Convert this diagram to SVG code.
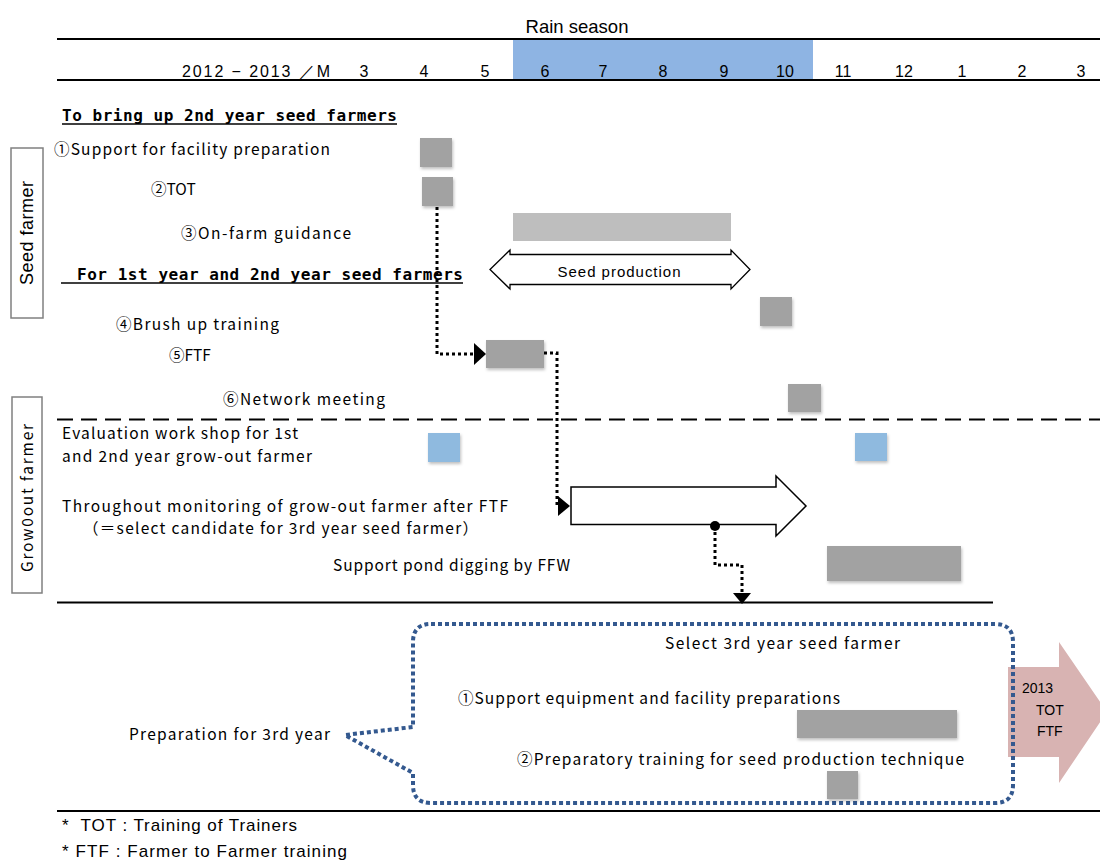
<svg xmlns="http://www.w3.org/2000/svg" width="1100" height="860" viewBox="0 0 1100 860">
  <style>
    .hdr { font-family: "Liberation Sans", Arial, sans-serif; font-size: 16px; fill: #000; }
    .jp { font-family: "Noto Sans CJK JP", "Liberation Sans", sans-serif; font-size: 15.5px; fill: #000; }
    .mono { font-family: "DejaVu Sans Mono", "Liberation Mono", monospace; font-size: 16px; font-weight: bold; fill: #000; }
    .bar { fill: #A2A2A2; }
    .bar-light { fill: #BEBEBE; }
    .blue { fill: #8FBADF; }
    .rule { stroke: #000; stroke-width: 2; fill: none; }
    .dots { stroke: #000; stroke-width: 3; stroke-dasharray: 3 3; fill: none; }
    .side { fill: #fff; stroke: #808080; stroke-width: 1.5; }
    .note { font-family: "Liberation Sans", Arial, sans-serif; font-size: 17px; fill: #000; }
  </style>
  <defs>
    <filter id="shadow" x="-20%" y="-20%" width="140%" height="150%">
      <feDropShadow dx="1" dy="2" stdDeviation="1.5" flood-color="#000" flood-opacity="0.25"/>
    </filter>
  </defs>

  <rect width="1100" height="860" fill="#fff"/>

  <!-- month header -->
  <g id="header">
    <rect x="513" y="40" width="300" height="39" fill="#8EB4E3"/>
    <line x1="57" y1="39" x2="1100" y2="39" class="rule"/>
    <line x1="57" y1="80" x2="1100" y2="80" class="rule"/>
    <text x="577" y="33" text-anchor="middle" font-family="Liberation Sans, Arial, sans-serif" font-size="18.5px">Rain season</text>
    <text class="hdr" x="182" y="77" textLength="148">2012 − 2013 ／M</text>
    <g class="hdr" text-anchor="middle">
      <text x="364" y="77">3</text>
      <text x="424" y="77">4</text>
      <text x="485" y="77">5</text>
      <text x="545" y="77">6</text>
      <text x="603" y="77">7</text>
      <text x="663" y="77">8</text>
      <text x="724" y="77">9</text>
      <text x="785" y="77">10</text>
      <text x="843" y="77">11</text>
      <text x="904" y="77">12</text>
      <text x="962" y="77">1</text>
      <text x="1022" y="77">2</text>
      <text x="1081" y="77">3</text>
    </g>
  </g>

  <!-- side labels -->
  <g id="seed-farmer-label">
    <rect x="11" y="148" width="32" height="170" class="side"/>
    <text transform="translate(33,233) rotate(-90)" text-anchor="middle" font-family="Liberation Sans, Arial, sans-serif" font-size="18px" textLength="104">Seed farmer</text>
  </g>
  <g id="growout-farmer-label">
    <rect x="12" y="397" width="30" height="196" class="side"/>
    <text transform="translate(33,498) rotate(-90)" text-anchor="middle" class="jp" font-size="17px" textLength="148">Grow0out  farmer</text>
  </g>

  <!-- section headings -->
  <g id="heading-2nd-year">
    <text class="mono" x="62" y="121" textLength="335">To bring up 2nd year seed farmers</text>
    <line x1="62" y1="124" x2="397" y2="124" stroke="#000" stroke-width="1.5"/>
  </g>
  <g id="heading-1st-2nd-year">
    <text class="mono" x="77" y="280" textLength="386">For 1st year and 2nd year seed farmers</text>
    <line x1="61" y1="283" x2="463" y2="283" stroke="#000" stroke-width="1.5"/>
  </g>

  <!-- seed farmer activities -->
  <g id="facility-preparation">
    <text class="jp" x="54" y="155" textLength="276">①Support for facility preparation</text>
    <rect x="420" y="138" width="32" height="29" class="bar" filter="url(#shadow)"/>
  </g>
  <g id="tot">
    <text class="jp" x="151" y="195" font-size="16.5px">②TOT</text>
    <rect x="422" y="177" width="31" height="29" class="bar" filter="url(#shadow)"/>
  </g>
  <g id="on-farm-guidance">
    <text class="jp" x="181" y="239" textLength="170">③On-farm guidance</text>
    <rect x="513" y="213" width="218" height="28" class="bar-light"/>
  </g>
  <g id="seed-production">
    <path d="M490,269.5 L510,250 V254.5 H731 V250 L750,269.5 L731,289 V284.5 H510 V289 Z" fill="#fff" stroke="#000" stroke-width="1.3"/>
    <text x="619" y="277" text-anchor="middle" font-family="Liberation Sans, Arial, sans-serif" font-size="15px" textLength="123">Seed production</text>
  </g>
  <g id="brush-up-training">
    <text class="jp" x="116" y="330" textLength="163">④Brush up training</text>
    <rect x="760" y="297" width="32" height="29" class="bar" filter="url(#shadow)"/>
  </g>
  <g id="ftf">
    <text class="jp" x="169" y="361" font-size="16.5px">⑤FTF</text>
    <rect x="486" y="340" width="58" height="28" class="bar" filter="url(#shadow)"/>
  </g>
  <g id="network-meeting">
    <text class="jp" x="223" y="405" textLength="162">⑥Network meeting</text>
    <rect x="788" y="384" width="33" height="28" class="bar" filter="url(#shadow)"/>
  </g>

  <!-- divider between seed farmer and grow-out farmer rows -->
  <line x1="57" y1="419.5" x2="1100" y2="419.5" stroke="#000" stroke-width="2" stroke-dasharray="16 8"/>

  <!-- grow-out farmer activities -->
  <g id="evaluation-workshop">
    <text class="jp" x="62" y="439" textLength="236">Evaluation work shop for 1st</text>
    <text class="jp" x="62" y="462" textLength="250">and 2nd year grow-out farmer</text>
    <rect x="428" y="433" width="32" height="29" class="blue" filter="url(#shadow)"/>
    <rect x="855" y="433" width="32" height="28" class="blue" filter="url(#shadow)"/>
  </g>
  <g id="monitoring">
    <text class="jp" x="62" y="512" textLength="446">Throughout monitoring of grow-out farmer after FTF</text>
    <text class="jp" x="83" y="534" textLength="395">（＝select candidate for 3rd year seed farmer）</text>
    <path d="M571,487 H776 V476 L806,506 L776,536 V524.5 H571 Z" fill="#fff" stroke="#000" stroke-width="1.5"/>
  </g>
  <g id="pond-digging">
    <text class="jp" x="333" y="571" textLength="237">Support pond digging by FFW</text>
    <rect x="827" y="546" width="134" height="35" class="bar" filter="url(#shadow)"/>
  </g>

  <line x1="57" y1="602.5" x2="993" y2="602.5" class="rule"/>

  <!-- connectors -->
  <g id="connectors">
    <path d="M437,207 V354 H476" class="dots"/>
    <polygon points="474,343 486,354 474,365" fill="#000"/>
    <path d="M544,353 H557 V506 H560" class="dots"/>
    <polygon points="558,496 570,506 558,516" fill="#000"/>
    <circle cx="715" cy="526" r="5" fill="#000"/>
    <path d="M715,526 V565 H742 V593" class="dots"/>
    <polygon points="733,593 751,593 742,604" fill="#000"/>
  </g>

  <!-- next year arrow -->
  <g id="next-year">
    <path d="M1008,667 H1059 V642 L1107,712 L1059,783 V757 H1008 Z" fill="#D8B3B2"/>
    <g font-family="Liberation Sans, Arial, sans-serif" font-size="14px">
      <text x="1022" y="693">2013</text>
      <text x="1036" y="715">TOT</text>
      <text x="1037" y="736">FTF</text>
    </g>
  </g>

  <!-- preparation for 3rd year callout -->
  <g id="third-year-preparation">
    <path d="M431,624 H995 Q1013,624 1013,642 V785 Q1013,803 995,803 H431 Q413,803 413,785 V773 L345,735 L413,727 V642 Q413,624 431,624 Z" fill="none" stroke="#34598F" stroke-width="4" stroke-dasharray="4 3"/>
    <text class="jp" x="129" y="740" textLength="201">Preparation for 3rd year</text>
    <text class="jp" x="665" y="649" textLength="235">Select 3rd year seed farmer</text>
    <text class="jp" x="458" y="704" textLength="382">①Support equipment and facility preparations</text>
    <rect x="797" y="710" width="160" height="28" class="bar" filter="url(#shadow)"/>
    <text class="jp" x="517" y="765" textLength="447">②Preparatory training for seed production technique</text>
    <rect x="827" y="771" width="31" height="28" class="bar" filter="url(#shadow)"/>
  </g>

  <!-- footnotes -->
  <g id="footnotes">
    <line x1="57" y1="811" x2="1100" y2="811" class="rule"/>
    <text class="note" x="62" y="831" textLength="235" xml:space="preserve">*  TOT : Training of Trainers</text>
    <text class="note" x="62" y="857" textLength="285">* FTF : Farmer to Farmer training</text>
  </g>
</svg>
